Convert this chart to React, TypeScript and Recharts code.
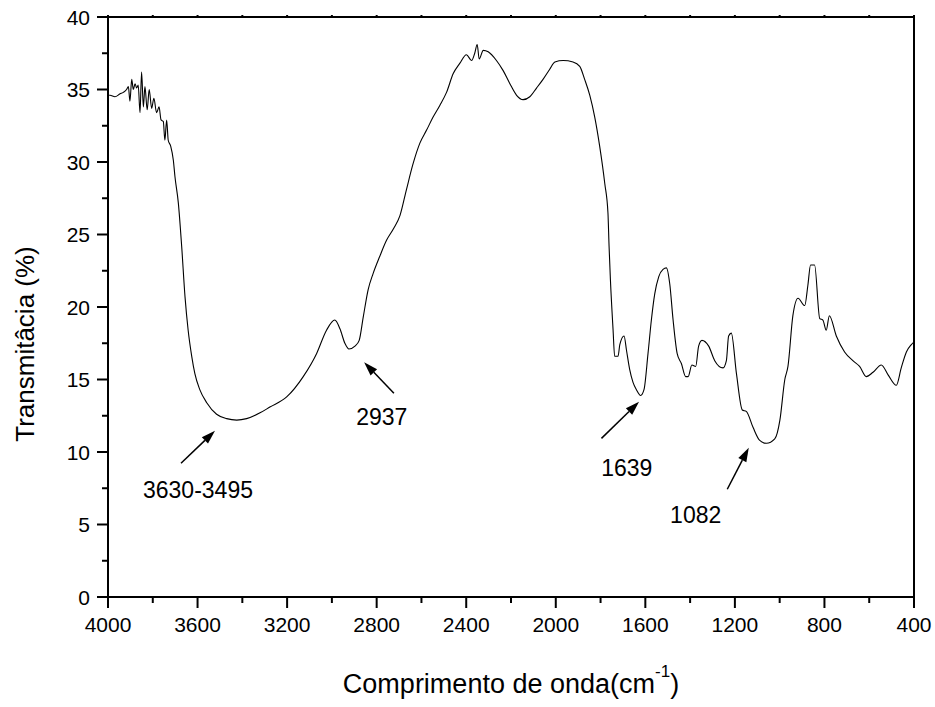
import { LineChart, Line, XAxis, YAxis, ReferenceLine, ReferenceDot } from "recharts"

const FONT = "'Liberation Sans', Arial, Helvetica, sans-serif"

// wavenumber (cm-1)
const wavenumbers = [
  3995, 3991, 3969, 3946, 3932, 3917, 3909, 3902, 3894, 3887, 3879, 3872, 3865, 3857, 3850,
  3842, 3835, 3825, 3816, 3805, 3795, 3783, 3772, 3763, 3753, 3746, 3738, 3731, 3720, 3708,
  3701, 3686, 3671, 3656, 3642, 3626, 3612, 3590, 3559, 3515, 3470, 3425, 3381, 3321, 3277,
  3202, 3128, 3068, 3024, 2987, 2964, 2942, 2924, 2897, 2878, 2860, 2838, 2816, 2786, 2756,
  2725, 2696, 2667, 2637, 2607, 2577, 2548, 2518, 2488, 2458, 2429, 2399, 2376, 2362, 2351,
  2342, 2324, 2302, 2265, 2235, 2205, 2175, 2146, 2116, 2086, 2057, 2027, 2004, 1967, 1923,
  1893, 1871, 1848, 1826, 1804, 1781, 1767, 1762, 1756, 1744, 1737, 1722, 1714, 1695, 1684,
  1670, 1655, 1640, 1621, 1606, 1588, 1573, 1558, 1540, 1521, 1506, 1491, 1476, 1458, 1439,
  1420, 1409, 1392, 1375, 1362, 1347, 1317, 1290, 1253, 1238, 1228, 1216, 1193, 1167, 1149,
  1119, 1089, 1059, 1022, 999, 977, 963, 941, 918, 888, 874, 862, 844, 821, 807,
  792, 778, 747, 710, 673, 643, 613, 583, 546, 515, 479, 457, 434, 412, 400,
]

// transmittance (%)
const transmittance = [
  34.6, 34.6, 34.5, 34.7, 34.8, 35.0, 35.2, 34.2, 35.7, 35.0, 35.4, 35.1, 35.3, 33.4, 36.2,
  33.8, 35.2, 33.6, 35.0, 33.7, 34.4, 33.4, 33.8, 32.9, 32.8, 31.5, 32.9, 31.5, 31.1, 30.1,
  29.0, 27.2, 24.2, 20.7, 18.4, 16.6, 15.4, 14.3, 13.4, 12.6, 12.3, 12.2, 12.3, 12.7, 13.1,
  13.8, 15.2, 16.8, 18.4, 19.1, 18.5, 17.5, 17.1, 17.3, 17.7, 19.3, 21.2, 22.3, 23.5, 24.6,
  25.4, 26.3, 28.1, 29.9, 31.3, 32.2, 33.1, 33.9, 34.8, 36.1, 36.8, 37.4, 37.0, 37.5, 38.1,
  37.1, 37.7, 37.6, 37.0, 36.3, 35.4, 34.6, 34.3, 34.5, 35.1, 35.7, 36.4, 36.9, 37.0, 36.9,
  36.6, 35.7, 34.6, 33.1, 31.1, 28.5, 26.5, 24.2, 21.9, 18.4, 16.6, 16.6, 17.4, 18.0, 17.0,
  15.7, 14.8, 14.3, 13.9, 14.3, 16.8, 19.1, 20.9, 22.1, 22.6, 22.7, 21.6, 19.1, 16.8, 16.1,
  15.2, 15.2, 16.0, 15.9, 17.3, 17.7, 17.3, 16.3, 15.8, 16.3, 18.0, 18.2, 15.4, 12.9, 12.8,
  11.7, 10.8, 10.6, 10.9, 12.2, 15.0, 15.9, 19.4, 20.6, 20.1, 21.5, 22.9, 22.9, 19.2, 19.1,
  18.4, 19.4, 18.0, 16.9, 16.3, 15.9, 15.2, 15.5, 16.0, 15.3, 14.6, 15.8, 16.9, 17.4, 17.6,
]

const xTicks = [4000, 3800, 3600, 3400, 3200, 3000, 2800, 2600, 2400, 2200, 2000, 1800, 1600, 1400, 1200, 1000, 800, 600, 400]
const yTicks = [0, 2.5, 5, 7.5, 10, 12.5, 15, 17.5, 20, 22.5, 25, 27.5, 30, 32.5, 35, 37.5, 40]

// peak annotations: arrow tail, arrow head, label position (baseline centre)
const peakLabels = ["3630-3495", "2937", "1639", "1082"]
const arrowTails = [
  { x: 3674, y: 9.22 },
  { x: 2723, y: 14.05 },
  { x: 1796, y: 10.94 },
  { x: 1234, y: 7.43 },
]
const arrowHeads = [
  { x: 3522, y: 11.47 },
  { x: 2856, y: 16.19 },
  { x: 1628, y: 13.47 },
  { x: 1138, y: 10.3 },
]
const labelSpots = [
  { x: 3598, y: 6.83 },
  { x: 2777, y: 11.86 },
  { x: 1683, y: 8.34 },
  { x: 1375, y: 5.12 },
]

const data = wavenumbers.map((wn, i) => ({ wn, t: transmittance[i] }))

const BottomTick = (props: any) => {
  const { x, y, payload } = props
  const v = payload.value
  const major = v % 400 === 0
  return (
    <g>
      <line x1={x} y1={y} x2={x} y2={y + (major ? 11 : 6)} stroke="#000" strokeWidth={2} />
      {major && (
        <text x={x} y={y + 35} textAnchor="middle" fontSize={21} fontFamily={FONT} fill="#000">
          {v}
        </text>
      )}
    </g>
  )
}

const LeftTick = (props: any) => {
  const { x, y, payload } = props
  const v = payload.value
  const major = v % 5 === 0
  return (
    <g>
      <line x1={x} y1={y} x2={x - (major ? 11 : 6)} y2={y} stroke="#000" strokeWidth={2} />
      {major && (
        <text x={x - 18} y={y + 7.5} textAnchor="end" fontSize={21} fontFamily={FONT} fill="#000">
          {v}
        </text>
      )}
    </g>
  )
}

const TopTick = (props: any) => {
  const { x, y } = props
  return <line x1={x} y1={y} x2={x} y2={y - 2} stroke="#000" strokeWidth={2} />
}

const RightTick = (props: any) => {
  const { x, y } = props
  return <line x1={x} y1={y} x2={x + 3} y2={y} stroke="#000" strokeWidth={2} />
}

const XTitle = (props: any) => {
  const { viewBox } = props
  const cx = viewBox.x + viewBox.width / 2
  return (
    <text x={cx} y={viewBox.y + 96} textAnchor="middle" fontSize={27} fontFamily={FONT} fill="#000">
      Comprimento de onda(cm
      <tspan fontSize={17} dy={-16}>-1</tspan>
      <tspan dy={16}>)</tspan>
    </text>
  )
}

const YTitle = () => (
  <text
    x={34}
    y={344}
    transform="rotate(-90, 34, 344)"
    textAnchor="middle"
    fontSize={26}
    fontFamily={FONT}
    fill="#000"
  >
    Transmitâcia (%)
  </text>
)

const Arrow = (props: any) => {
  const { x1, y1, x2, y2 } = props
  const ang = Math.atan2(y2 - y1, x2 - x1)
  const len = 14
  const half = 4.5
  const bx = x2 - len * Math.cos(ang)
  const by = y2 - len * Math.sin(ang)
  const pts = `${x2},${y2} ${bx - half * Math.sin(ang)},${by + half * Math.cos(ang)} ${bx + half * Math.sin(ang)},${by - half * Math.cos(ang)}`
  return (
    <g>
      <line x1={x1} y1={y1} x2={bx} y2={by} stroke="#000" strokeWidth={1.5} />
      <polygon points={pts} fill="#000" />
    </g>
  )
}

export default function App() {
  return (
    <div style={{ position: "absolute", left: 0, top: 0, width: 935, height: 707, background: "#fff" }}>
      <LineChart width={935} height={707} data={data} margin={{ top: 12, right: 16, bottom: 10, left: 8 }}>
        <XAxis
          dataKey="wn"
          type="number"
          domain={[400, 4000]}
          reversed
          ticks={xTicks}
          interval={0}
          height={100}
          tickSize={0}
          tickMargin={0}
          tickLine={false}
          tick={BottomTick}
          axisLine={{ stroke: "#000", strokeWidth: 2 }}
          label={{ content: XTitle }}
        />
        <XAxis
          xAxisId="top"
          orientation="top"
          dataKey="wn"
          type="number"
          domain={[400, 4000]}
          reversed
          ticks={xTicks}
          interval={0}
          height={5}
          tickSize={0}
          tickMargin={0}
          tickLine={false}
          tick={TopTick}
          axisLine={{ stroke: "#000", strokeWidth: 2 }}
        />
        <YAxis
          type="number"
          domain={[0, 40]}
          ticks={yTicks}
          interval={0}
          width={100}
          tickSize={0}
          tickMargin={0}
          tickLine={false}
          tick={LeftTick}
          axisLine={{ stroke: "#000", strokeWidth: 2 }}
          label={{ content: YTitle }}
        />
        <YAxis
          yAxisId="right"
          orientation="right"
          type="number"
          domain={[0, 40]}
          ticks={yTicks}
          interval={0}
          width={5}
          tickSize={0}
          tickMargin={0}
          tickLine={false}
          tick={RightTick}
          axisLine={{ stroke: "#000", strokeWidth: 2 }}
        />
        <Line
          type="monotone"
          dataKey="t"
          stroke="#000"
          strokeWidth={1.1}
          dot={false}
          activeDot={false}
          isAnimationActive={false}
        />
        {peakLabels.map((lab, i) => (
          <ReferenceLine
            key={"arrow-" + lab}
            segment={[arrowTails[i], arrowHeads[i]]}
            stroke="#000"
            shape={Arrow}
          />
        ))}
        {peakLabels.map((lab, i) => (
          <ReferenceDot
            key={"label-" + lab}
            x={labelSpots[i].x}
            y={labelSpots[i].y}
            r={0}
            shape={(p: any) => (
              <text x={p.cx} y={p.cy} textAnchor="middle" fontSize={23} fontFamily={FONT} fill="#000">
                {lab}
              </text>
            )}
          />
        ))}
      </LineChart>
    </div>
  )
}
